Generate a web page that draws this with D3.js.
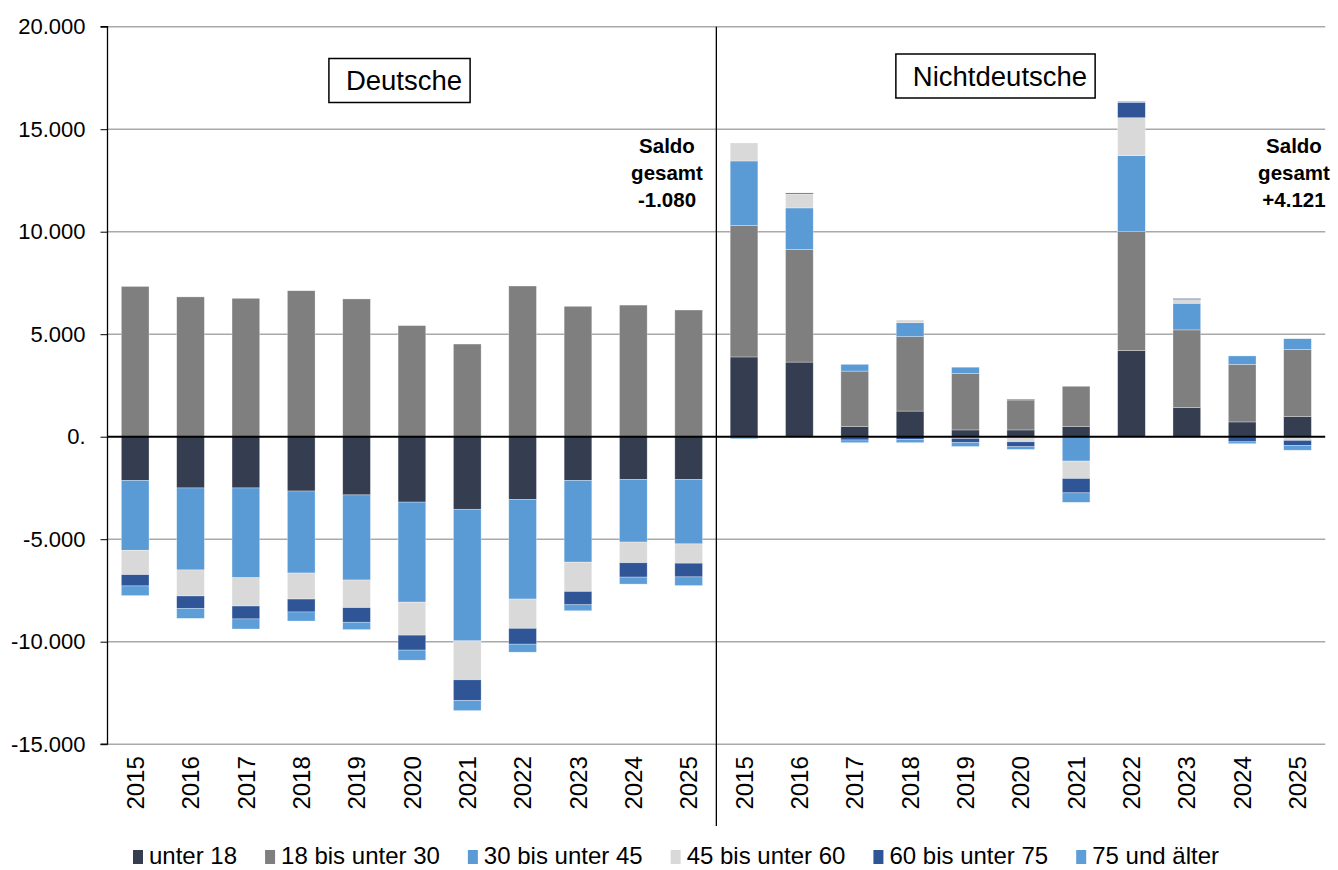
<!DOCTYPE html>
<html lang="de">
<head>
<meta charset="utf-8">
<title>Wanderungssaldo nach Altersgruppen</title>
<script src="https://cdn.jsdelivr.net/npm/d3@7"></script>
<style>
  html, body { margin: 0; padding: 0; background: #fff; }
  svg { display: block; font-family: "Liberation Sans", Arial, sans-serif; }
</style>
</head>
<body>
<svg id="chart" width="1338" height="870"></svg>
<script>
// Jahre je Gruppe
const years = ["2015", "2016", "2017", "2018", "2019", "2020", "2021", "2022", "2023", "2024", "2025"];
const groups = ["Deutsche", "Nichtdeutsche"];
const ageGroups = ["unter 18", "18 bis unter 30", "30 bis unter 45", "45 bis unter 60", "60 bis unter 75", "75 und älter"];

// Wanderungssaldo Deutsche nach Altersgruppe
const deUnter18   = [-2130, -2500, -2500, -2650, -2840, -3190, -3540, -3060, -2130, -2080, -2080];
const de18bis30   = [7330, 6820, 6750, 7120, 6720, 5420, 4520, 7350, 6360, 6420, 6180];
const de30bis45   = [-3410, -4000, -4380, -4000, -4150, -4880, -6420, -4860, -3990, -3060, -3150];
const de45bis60   = [-1190, -1270, -1380, -1270, -1350, -1610, -1900, -1430, -1430, -1010, -940];
const de60bis75   = [-550, -600, -630, -630, -710, -730, -1010, -770, -650, -700, -670];
const de75plus    = [-470, -490, -490, -440, -360, -490, -490, -390, -290, -340, -420];

// Wanderungssaldo Nichtdeutsche nach Altersgruppe
const ndUnter18   = [3890, 3640, 490, 1250, 330, 330, 490, 4200, 1420, 720, 980];
const nd18bis30   = [6420, 5500, 2710, 3630, 2750, 1460, 1970, 5800, 3790, 2810, 3280];
const nd30bis45   = [3140, 2020, 330, 680, 310, 50, -1190, 3710, 1300, 410, 520];
const nd45bis60   = [880, 680, -30, 130, -80, -250, -850, 1850, 180, -20, -180];
const nd60bis75   = [-30, 50, -130, -130, -210, -240, -700, 750, 50, -230, -250];
const nd75plus    = [-70, -30, -130, -160, -190, -130, -460, 50, -30, -90, -229];

// Saldo gesamt (letztes Jahr)
const saldoLabels = ["-1.080", "+4.121"];

const yTicks = [-15000, -10000, -5000, 0, 5000, 10000, 15000, 20000];
const colors = ["#343e50", "#7f7f7f", "#5b9bd5", "#d9d9d9", "#2f5597", "#5d9dd8"];

// Tabelle für den Stapel aufbauen
const seriesDe = [deUnter18, de18bis30, de30bis45, de45bis60, de60bis75, de75plus];
const seriesNd = [ndUnter18, nd18bis30, nd30bis45, nd45bis60, nd60bis75, nd75plus];
const rows = [];
groups.forEach((g, gi) => {
  const src = gi === 0 ? seriesDe : seriesNd;
  years.forEach((yr, i) => {
    const row = { key: g + "-" + yr, group: g, year: yr };
    ageGroups.forEach((a, ai) => { row[a] = src[ai][i]; });
    rows.push(row);
  });
});

const svg = d3.select("#chart");
const plotLeft = 107.5, plotRight = 1325.2, plotTop = 26.7, plotBottom = 744.2;

const x = d3.scaleBand()
  .domain(rows.map(d => d.key))
  .range([plotLeft, plotRight])
  .paddingInner(0.5)
  .paddingOuter(0.25);

const y = d3.scaleLinear().domain([-15000, 20000]).range([plotBottom, plotTop]);

const deLocale = d3.formatLocale({ decimal: ",", thousands: ".", grouping: [3], currency: ["", " €"], minus: "-" });
const fmt = deLocale.format(",d");

// Gitterlinien
svg.append("g")
  .selectAll("line")
  .data(yTicks.filter(t => t !== 0))
  .join("line")
  .attr("x1", plotLeft).attr("x2", plotRight)
  .attr("y1", d => y(d)).attr("y2", d => y(d))
  .attr("stroke", "#a9a9a9").attr("stroke-width", 1.5);

// gestapelte Balken
const stack = d3.stack().keys(ageGroups).offset(d3.stackOffsetDiverging);
const layers = stack(rows);

svg.append("g")
  .selectAll("g")
  .data(layers)
  .join("g")
  .attr("fill", (d, i) => colors[i])
  .selectAll("rect")
  .data(d => d)
  .join("rect")
  .attr("x", d => x(d.data.key))
  .attr("width", x.bandwidth())
  .attr("y", d => y(Math.max(d[0], d[1])))
  .attr("height", d => Math.abs(y(d[0]) - y(d[1])))
  .attr("stroke", "#ffffff")
  .attr("stroke-opacity", 0.5)
  .attr("stroke-width", 0.6);

// Nulllinie
svg.append("line")
  .attr("x1", plotLeft).attr("x2", plotRight)
  .attr("y1", y(0)).attr("y2", y(0))
  .attr("stroke", "#000").attr("stroke-width", 2);

// y-Achse
const yAxis = d3.axisLeft(y)
  .tickValues(yTicks)
  .tickSize(7)
  .tickPadding(15)
  .tickFormat(d => d === 0 ? "0." : fmt(d));
const gy = svg.append("g").attr("transform", `translate(${plotLeft},0)`).call(yAxis);
gy.select(".domain").attr("stroke", "#000").attr("stroke-width", 1.3).attr("d", `M-7,${plotTop}H0V${plotBottom}H-7`);
gy.selectAll(".tick line").attr("stroke", "#000").attr("stroke-width", 1);
gy.selectAll(".tick text")
  .attr("font-size", 22)
  .attr("fill", "#000")
  .attr("font-family", "Liberation Sans, Arial, sans-serif");

// Trennlinie zwischen den Gruppen
const divX = (x(groups[0] + "-" + years[years.length - 1]) + x(groups[1] + "-" + years[0]) + x.bandwidth()) / 2;
svg.append("line")
  .attr("x1", divX).attr("x2", divX)
  .attr("y1", plotTop).attr("y2", 826)
  .attr("stroke", "#000").attr("stroke-width", 1.3);

// Jahresbeschriftung
svg.append("g")
  .selectAll("text")
  .data(rows)
  .join("text")
  .attr("transform", d => `translate(${x(d.key) + x.bandwidth() / 2},${plotBottom + 12}) rotate(-90)`)
  .attr("text-anchor", "end")
  .attr("dy", "0.36em")
  .attr("font-size", 24)
  .attr("fill", "#000")
  .text(d => d.year);

// Gruppenüberschriften mit Rahmen
const titleBoxes = [
  { text: groups[0], cx: 404, cy: 80.5 },
  { text: groups[1], cx: 1000, cy: 76 }
];
titleBoxes.forEach(b => {
  const box = svg.append("rect");
  const t = svg.append("text")
    .attr("x", b.cx).attr("y", b.cy)
    .attr("dy", "0.35em")
    .attr("text-anchor", "middle")
    .attr("font-size", 27.5)
    .attr("fill", "#000")
    .text(b.text);
  const w = t.node().getComputedTextLength();
  box.attr("x", b.cx - w / 2 - 17).attr("y", b.cy - 22)
    .attr("width", w + 25).attr("height", 44)
    .attr("fill", "#fff").attr("stroke", "#000").attr("stroke-width", 1.5);
});

// Saldo-Beschriftungen
const saldoPos = [667, 1294];
saldoLabels.forEach((s, i) => {
  const t = svg.append("text")
    .attr("x", saldoPos[i]).attr("y", 153)
    .attr("text-anchor", "middle")
    .attr("font-size", 20.5)
    .attr("font-weight", "bold")
    .attr("fill", "#000");
  ["Saldo", "gesamt", s].forEach((line, li) => {
    t.append("tspan").attr("x", saldoPos[i]).attr("dy", li === 0 ? 0 : 27).text(line);
  });
});

// Legende
const legend = svg.append("g").attr("transform", "translate(133,856)");
let cursor = 0;
ageGroups.forEach((a, i) => {
  const item = legend.append("g").attr("transform", `translate(${cursor},0)`);
  item.append("rect").attr("x", 0).attr("y", -6).attr("width", 10).attr("height", 14).attr("fill", colors[i]);
  const t = item.append("text").attr("x", 16).attr("y", 0).attr("dy", "0.33em")
    .attr("font-size", 24).attr("fill", "#000").text(a);
  cursor += 16 + t.node().getComputedTextLength() + 28;
});
</script>
</body>
</html>
